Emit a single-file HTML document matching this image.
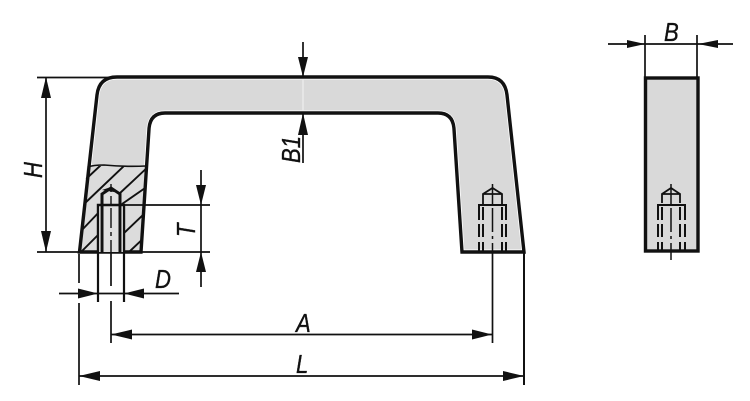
<!DOCTYPE html>
<html><head><meta charset="utf-8"><style>
html,body{margin:0;padding:0;background:#fff}
svg{display:block}
text{font-family:"Liberation Sans",sans-serif;font-style:italic;font-size:26px;fill:#111;stroke:#111;stroke-width:.35px}
</style></head><body>
<svg width="750" height="401" viewBox="0 0 750 401" xmlns="http://www.w3.org/2000/svg">
<defs>
<clipPath id="hc"><path d="M87 166H146L141 252H79Z"/></clipPath>
</defs>
<!-- handle -->
<path d="M79.500 252L97 95Q99 77 117 77H488Q505 77 507 95L524 252H462L454 129Q453 113 438 113H165Q150 113 149 129L141 252Z" fill="#d9d9d9" stroke="#fff" stroke-width="5" stroke-linejoin="round"/>
<!-- hatching -->
<g clip-path="url(#hc)">
<rect x="75" y="166" width="75" height="86" fill="#dcdcdc"/>
<g stroke="#111" stroke-width="1.900" fill="none">
<path d="M86 179L101 165M83 205L125 165M119 194L150 165M81 231L102 209M122 204L148 186M81 252L102 231M122 235L146 212M129 252L146 236"/>
</g>
</g>
<path d="M88 167Q93 165 104 165Q125 167 146 166" fill="none" stroke="#111" stroke-width="1.600"/>
<path d="M79.500 252L97 95Q99 77 117 77H488Q505 77 507 95L524 252H462L454 129Q453 113 438 113H165Q150 113 149 129L141 252Z" fill="none" stroke="#111" stroke-width="3.400" stroke-linejoin="miter"/>
<path d="M303 79V111" stroke="#f2f2f2" stroke-width="1" fill="none"/>
<!-- left hole -->
<rect x="99" y="205" width="24" height="47" fill="#fff"/>
<rect x="102" y="194" width="18" height="58" fill="#e0e0e0"/>
<path d="M102 252V194L111 188L120 194V252" fill="none" stroke="#111" stroke-width="3"/>
<path d="M102 190L111 187L120 193Z" fill="#111"/>
<path d="M98 252V205H124V252" fill="none" stroke="#111" stroke-width="2.400"/>
<path d="M111 184V192M111 196V204M111 208V228M111 232V236M111 240V252" stroke="#111" stroke-width="1.400" fill="none"/>
<!-- right hole -->
<g fill="none" stroke="#111">
<path d="M483 204V194L492.500 188L502 194V204M483 194H502" stroke-width="1.800"/>
<path d="M492.500 184V204M492.500 208V232M492.500 236V239M492.500 243V252" stroke-width="1.500"/>
<path d="M479 220V205H506V220" stroke-width="2"/>
<path d="M479 224V237M479 242V252M506 224V237M506 242V252" stroke-width="2"/>
<path d="M483 207V220M483 224V237M483 242V252M502 207V220M502 224V237M502 242V252" stroke-width="2"/>
</g>
<!-- side view -->
<rect x="645.500" y="78" width="52.500" height="173" fill="#d9d9d9" stroke="#111" stroke-width="3.400"/>
<g fill="none" stroke="#111">
<path d="M662 203V194L671 188L680 194V203M662 194H680" stroke-width="1.800"/>
<path d="M671 184V204M671 208V232M671 236V239M671 243V260" stroke-width="1.500"/>
<path d="M658 220V205H685V220" stroke-width="2"/>
<path d="M658 224V237M658 242V250M685 224V237M685 242V250" stroke-width="2"/>
<path d="M662 207V220M662 224V237M662 242V250M680 207V220M680 224V237M680 242V250" stroke-width="2"/>
</g>
<!-- dimension lines -->
<g fill="none" stroke="#111" stroke-width="1.700">
<path d="M37 77.500H112M37 252H79M141 252H210M124 205H210"/>
<path d="M46 77V252"/>
<path d="M201 170V287"/>
<path d="M79 254V283M79 303V385"/>
<path d="M98 252V302M124 252V302" stroke-width="2.200"/>
<path d="M111 252V286M111 301V343"/>
<path d="M59 293.500H179"/>
<path d="M111 334.500H492M79 376H524"/>
<path d="M492.500 252V343"/>
<path d="M524 252V385" stroke-width="2"/>
<path d="M303 42V77M303 113V163"/>
<path d="M608 44H733M645 35V78M697 35V78"/>
</g>
<!-- arrowheads -->
<g fill="#111">
<path d="M46 77L41 98H51Z"/><path d="M46 252L41 231H51Z"/>
<path d="M201 205L196 185H206Z"/><path d="M201 252L196 272H206Z"/>
<path d="M98 293.500L78 288.500V298.500Z"/><path d="M124 293.500L144 288.500V298.500Z"/>
<path d="M111 334.500L132 329.500V339.500Z"/><path d="M492 334.500L472 329.500V339.500Z"/>
<path d="M79 376L100 371V381Z"/><path d="M524 376L503 371V381Z"/>
<path d="M303 77L298 57H308Z"/><path d="M303 113L298 135H308Z"/>
<path d="M645 44L627 40V48Z"/><path d="M698 44L718 40V48Z"/>
</g>
<!-- labels -->
<text transform="translate(42,178) rotate(-90) scale(.85,1)">H</text>
<text transform="translate(195,237) rotate(-90) scale(.85,1)">T</text>
<text transform="translate(155,288) scale(.85,1)">D</text>
<text transform="translate(296,332) scale(.85,1)">A</text>
<text transform="translate(296,373) scale(.85,1)">L</text>
<text transform="translate(664,41) scale(.85,1)">B</text>
<text transform="translate(300,163) rotate(-90) scale(.85,1)">B1</text>
</svg>
</body></html>
